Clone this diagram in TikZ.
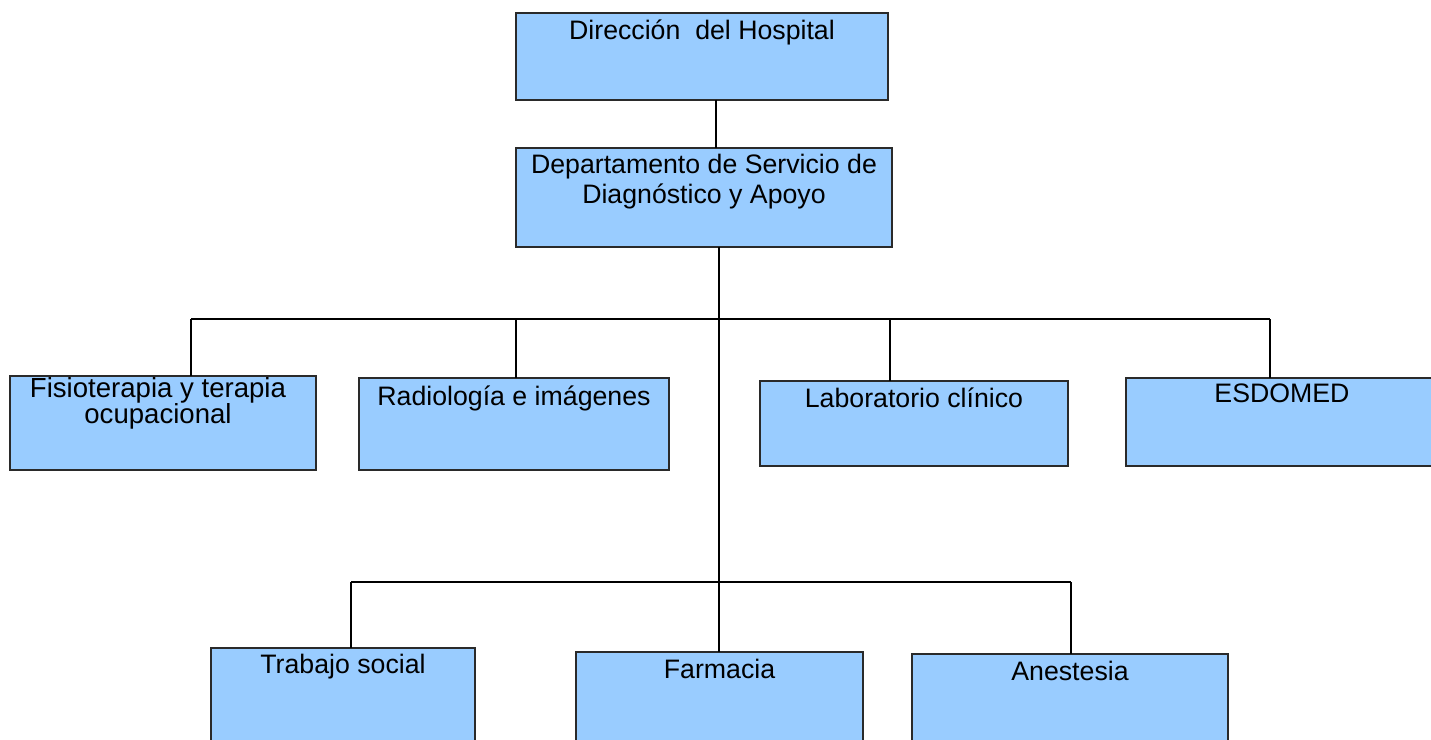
\documentclass[tikz,border=0pt]{standalone}
\usepackage{fontspec}
\setmainfont{Liberation Sans}
\definecolor{boxfill}{HTML}{99CCFF}
\definecolor{boxline}{HTML}{2A2A2A}
\begin{document}
\begin{tikzpicture}[x=0.02cm,y=-0.02cm,
  box/.style={draw=boxline,line width=0.7pt,fill=boxfill,rectangle,inner sep=0pt,outer sep=0pt},
  lbl/.style={anchor=base,inner sep=0pt,align=center,font=\fontsize{15.2}{17}\selectfont},
  conn/.style={draw=black,line width=1pt}]
\useasboundingbox (0,0) rectangle (1431,740);
\clip (0,0) rectangle (1431,740);
% boxes
\node[box,minimum width=7.44cm,minimum height=1.74cm] (dir) at (702,56.5) {};
\node[box,minimum width=7.52cm,minimum height=1.98cm] (dep) at (704,197.5) {};
\node[box,minimum width=6.12cm,minimum height=1.88cm] (fis) at (163,423) {};
\node[box,minimum width=6.20cm,minimum height=1.84cm] (rad) at (514,424) {};
\node[box,minimum width=6.16cm,minimum height=1.70cm] (lab) at (914,423.5) {};
\node[box,minimum width=6.20cm,minimum height=1.76cm] (esd) at (1281,422) {};
\node[box,minimum width=5.28cm,minimum height=2.24cm] (tra) at (343,704) {};
\node[box,minimum width=5.74cm,minimum height=2.16cm] (far) at (719.5,706) {};
\node[box,minimum width=6.32cm,minimum height=2.12cm] (ane) at (1070,707) {};
% labels
\node[lbl] (tdir) at (702,40) {Dirección\ \ del Hospital};
\node[lbl] (tdep) at (704,203) {Departamento de Servicio de\\Diagnóstico y Apoyo};
\node[lbl,font=\fontsize{15.7}{14.7}\selectfont] (tfis) at (158,423) {Fisioterapia y terapia\\ocupacional};
\node[lbl] (trad) at (514,405) {Radiología e imágenes};
\node[lbl] (tlab) at (914,407) {Laboratorio clínico};
\node[lbl] (tesd) at (1282,402) {ESDOMED};
\node[lbl] (ttra) at (343,673) {Trabajo social};
\node[lbl] (tfar) at (719.5,678) {Farmacia};
\node[lbl] (tane) at (1070,680) {Anestesia};
% connector coordinates
\coordinate (j0) at (716,0);
\coordinate (m) at (719,0);
\coordinate (b1a) at (191,319);
\coordinate (b1b) at (516,319);
\coordinate (b1c) at (890,319);
\coordinate (b1d) at (1270,319);
\coordinate (b2a) at (351,582);
\coordinate (b2b) at (1071,582);
% connectors
\draw[conn] (dir.south -| j0) -- (dep.north -| j0);
\draw[conn] (dep.south -| m) -- (far.north -| m);
\draw[conn] (b1a) -- (b1d);
\draw[conn] (b1a) -- (b1a |- fis.north);
\draw[conn] (b1b) -- (b1b |- rad.north);
\draw[conn] (b1c) -- (b1c |- lab.north);
\draw[conn] (b1d) -- (b1d |- esd.north);
\draw[conn] (b2a) -- (b2b);
\draw[conn] (b2a) -- (b2a |- tra.north);
\draw[conn] (b2b) -- (b2b |- ane.north);
\end{tikzpicture}
\end{document}
